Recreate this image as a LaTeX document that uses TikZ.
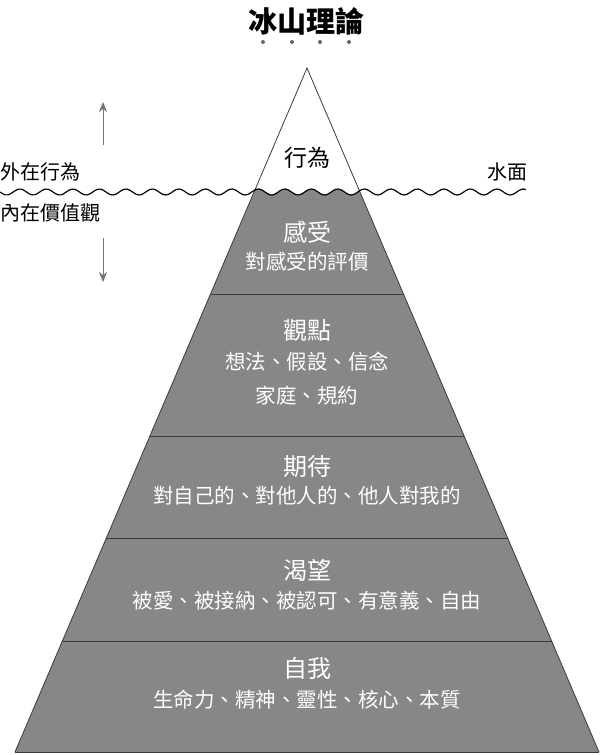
\documentclass[tikz,border=0pt]{standalone}
\usepackage{fontspec}
\newfontfamily\cjk{Noto Sans CJK TC}
\usetikzlibrary{calc,arrows.meta}

\definecolor{sea}{HTML}{878787}
\definecolor{edge}{HTML}{3A3A3A}

\tikzset{
  head/.style={font=\cjk\fontsize{24}{24}\selectfont, text=white, inner sep=0pt},
  sub/.style={font=\cjk\fontsize{20.5}{20.5}\selectfont, text=white, inner sep=0pt},
  side/.style={font=\cjk\fontsize{20}{20}\selectfont, inner sep=0pt},
  updown/.style={draw=black!55, line width=1pt, -{Stealth[length=10pt,width=8pt]}},
}

\begin{document}
\begin{tikzpicture}[x=1pt, y=-1pt]
\useasboundingbox (0,0) rectangle (600,755);

\coordinate (apex) at (307,68);
\coordinate (bl) at (15,752);
\coordinate (br) at (599,752);

% under water part
\begin{scope}
\clip plot[domain=0:526, samples=200] (\x, {192+3*sin(\x/26.5*360)}) -- (600,192) -- (600,755) -- (0,755) -- cycle;
\fill[sea] (apex) -- (bl) -- (br) -- cycle;
\end{scope}
\draw[edge, line width=0.8pt] (bl) -- (apex) -- (br);
\draw[edge, line width=1pt] (bl) -- (br);

% layers
\foreach \f in {0.3304, 0.538, 0.6871, 0.8377}
  \draw[edge, line width=0.9pt] ($(apex)!\f!(bl)$) -- ($(apex)!\f!(br)$);

% water line
\draw[line width=1.2pt] plot[domain=0:526, samples=200] (\x, {192+3*sin(\x/26.5*360)});

% title
\node[font=\cjk\bfseries\fontsize{29}{29}\selectfont, inner sep=0pt] (title) at (306,21) {冰山理論};
\foreach \d in {263,292,320,349}
  \fill[black!60] (\d,42) circle (2);

\node[side, anchor=west] (outer) at (0,172) {外在行為};
\node[side, anchor=west] (inner) at (0,213) {內在價值觀};
\node[side, anchor=east] (surface) at (528,172) {水面};

\coordinate (upA) at (103,145);
\coordinate (upB) at (103,102);
\coordinate (dnA) at (103,238);
\coordinate (dnB) at (103,282);
\draw[updown] (upA) -- (upB);
\draw[updown] (dnA) -- (dnB);

\node[font=\cjk\fontsize{23}{23}\selectfont, inner sep=0pt] (act) at (307,158) {行為};

\node[head] (feel) at (307,232) {感受};
\node[sub] (feelB) at (307,262) {對感受的評價};

\node[head] (view) at (307,330) {觀點};
\node[sub] (viewB) at (307,362) {想法、假設、信念};
\node[sub] (viewC) at (307,396) {家庭、規約};

\node[head] (hope) at (307,466) {期待};
\node[sub] (hopeB) at (307,496) {對自己的、對他人的、他人對我的};

\node[head] (want) at (307,570) {渴望};
\node[sub] (wantB) at (307,601) {被愛、被接納、被認可、有意義、自由};

\node[head] (self) at (307,668) {自我};
\node[sub] (selfB) at (307,700) {生命力、精神、靈性、核心、本質};
\end{tikzpicture}
\end{document}
